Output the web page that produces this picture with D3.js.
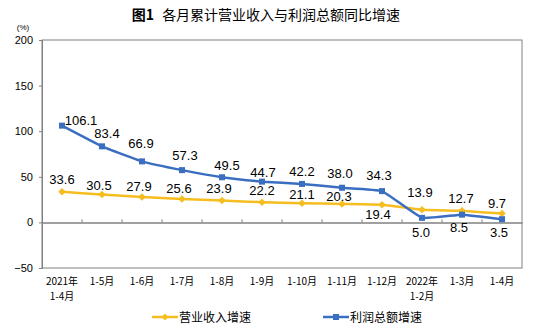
<!DOCTYPE html>
<html>
<head>
<meta charset="utf-8">
<script src="https://cdn.jsdelivr.net/npm/d3@7"></script>
<style>
  html, body { margin: 0; padding: 0; background: #fff; }
  svg { display: block; }
</style>
</head>
<body>
<svg id="chart" width="540" height="330"></svg>
<script>
// Month labels (two-line where needed)
const categories = [
  ["2021年", "1-4月"], ["1-5月"], ["1-6月"], ["1-7月"], ["1-8月"], ["1-9月"],
  ["1-10月"], ["1-11月"], ["1-12月"], ["2022年", "1-2月"], ["1-3月"], ["1-4月"]
];
// Cumulative year-on-year growth, %
const revenueGrowth = [33.6, 30.5, 27.9, 25.6, 23.9, 22.2, 21.1, 20.3, 19.4, 13.9, 12.7, 9.7];
const profitGrowth  = [106.1, 83.4, 66.9, 57.3, 49.5, 44.7, 42.2, 38.0, 34.3, 5.0, 8.5, 3.5];
const yTicks = [-50, 0, 50, 100, 150, 200];
const seriesNames = ["营业收入增速", "利润总额增速"];

// Hand-placed label nudges (px, baseline relative to the marker)
const revenueLabelDx = [0, -3, -3, -3, -3, 0, 0, -3, -4, -2, -1, -5];
const revenueLabelDy = [-7.5, -4.5, -5.5, -6.5, -7.5, -7.5, -4.5, -3, 14.5, -12.5, -7.5, -6];
const profitLabelDx  = [19, 5, -1, 3, 5, 1, 0, -2, -3, -1, -3, -3];
const profitLabelDy  = [-1, -8.5, -13.5, -10, -7, -4.5, -7.5, -9.5, -11, 19, 17, 17.5];

const svg = d3.select("#chart");
const plotLeft = 42, plotRight = 522, plotTop = 40, plotBottom = 268;
const yellow = "#F5BD1F", blue = "#3A6EC1";
const axisColor = "#808080";

const idx = categories.map((d, i) => i);
const x = d3.scaleBand().domain(idx).range([plotLeft, plotRight]);
const cx = i => x(i) + x.bandwidth() / 2;
const y = d3.scaleLinear().domain([-50, 200]).range([plotBottom, plotTop]);

// Title
svg.append("text")
  .attr("x", 266).attr("y", 20)
  .attr("text-anchor", "middle")
  .attr("font-family", "'Noto Sans CJK SC', sans-serif")
  .attr("font-size", 14)
  .attr("fill", "#000")
  .call(t => {
    t.append("tspan").attr("font-weight", "bold").text("图1");
    t.append("tspan").attr("dx", 8).text("各月累计营业收入与利润总额同比增速");
  });

// Plot frame
svg.append("rect")
  .attr("x", plotLeft).attr("y", plotTop)
  .attr("width", plotRight - plotLeft).attr("height", plotBottom - plotTop)
  .attr("fill", "none").attr("stroke", axisColor).attr("stroke-width", 1);

// Y axis
const yAxis = d3.axisLeft(y).tickValues(yTicks).tickSize(3).tickPadding(6);
const yg = svg.append("g").attr("transform", `translate(${plotLeft},0)`).call(yAxis);
yg.select(".domain").attr("stroke", axisColor);
yg.selectAll(".tick line").attr("stroke", axisColor);
yg.selectAll(".tick text")
  .attr("font-family", "'Liberation Sans', Arial, sans-serif")
  .attr("font-size", 11).attr("fill", "#000");

// Unit label
svg.append("text")
  .attr("x", 23).attr("y", 30)
  .attr("text-anchor", "middle")
  .attr("font-family", "'Liberation Sans', Arial, sans-serif")
  .attr("font-size", 8).attr("fill", "#000")
  .text("(%)");

// Zero baseline with inward tick marks at category boundaries
const zeroAxis = d3.axisTop(x).tickSize(0).tickFormat("");
const zg = svg.append("g").attr("transform", `translate(0,${y(0)})`).call(zeroAxis);
zg.select(".domain").attr("stroke", axisColor).attr("stroke-width", 1.5);
svg.append("g").selectAll("line")
  .data(idx.slice(1))
  .join("line")
  .attr("x1", i => x(i)).attr("x2", i => x(i))
  .attr("y1", y(0)).attr("y2", y(0) - 3)
  .attr("stroke", axisColor);

// Category labels below the frame
const xl = svg.append("g")
  .attr("font-family", "'Noto Sans CJK SC', sans-serif")
  .attr("font-size", 10).attr("fill", "#000")
  .attr("text-anchor", "middle");
idx.forEach(i => {
  categories[i].forEach((line, k) => {
    xl.append("text")
      .attr("x", cx(i)).attr("y", 285 + k * 15)
      .text(line);
  });
});

// Lightly smoothed series lines
const lineGen = d3.line()
  .x((d, i) => cx(i))
  .y(d => y(d))
  .curve(d3.curveCardinal.tension(0.7));

// Revenue growth series
svg.append("path").datum(revenueGrowth)
  .attr("d", lineGen).attr("fill", "none")
  .attr("stroke", yellow).attr("stroke-width", 2.5);
svg.append("g").selectAll("path")
  .data(revenueGrowth)
  .join("path")
  .attr("d", d3.symbol(d3.symbolDiamond2, 36))
  .attr("transform", (d, i) => `translate(${cx(i)},${y(d)})`)
  .attr("fill", yellow);

// Profit growth series
svg.append("path").datum(profitGrowth)
  .attr("d", lineGen).attr("fill", "none")
  .attr("stroke", blue).attr("stroke-width", 2.5);
svg.append("g").selectAll("rect")
  .data(profitGrowth)
  .join("rect")
  .attr("x", (d, i) => cx(i) - 3).attr("y", d => y(d) - 3)
  .attr("width", 6).attr("height", 6)
  .attr("fill", blue);

// Value labels
const lbl = svg.append("g")
  .attr("font-family", "'Liberation Sans', Arial, sans-serif")
  .attr("font-size", 13)
  .attr("fill", "#000").attr("text-anchor", "middle");

revenueGrowth.forEach((v, i) => {
  lbl.append("text")
    .attr("x", cx(i) + revenueLabelDx[i])
    .attr("y", y(v) + revenueLabelDy[i])
    .text(v.toFixed(1));
});
profitGrowth.forEach((v, i) => {
  lbl.append("text")
    .attr("x", cx(i) + profitLabelDx[i])
    .attr("y", y(v) + profitLabelDy[i])
    .text(v.toFixed(1));
});

// Legend
const legend = svg.append("g")
  .attr("font-family", "'Noto Sans CJK SC', sans-serif")
  .attr("font-size", 12).attr("fill", "#000");
const legendItems = [
  { name: seriesNames[0], color: yellow, x: 152, marker: "diamond" },
  { name: seriesNames[1], color: blue, x: 323, marker: "square" }
];
legendItems.forEach(it => {
  const ly = 317;
  legend.append("line")
    .attr("x1", it.x).attr("x2", it.x + 26)
    .attr("y1", ly).attr("y2", ly)
    .attr("stroke", it.color).attr("stroke-width", 2.5);
  if (it.marker === "diamond") {
    legend.append("path")
      .attr("d", d3.symbol(d3.symbolDiamond2, 30))
      .attr("transform", `translate(${it.x + 13},${ly})`)
      .attr("fill", it.color);
  } else {
    legend.append("rect")
      .attr("x", it.x + 10).attr("y", ly - 3)
      .attr("width", 6).attr("height", 6)
      .attr("fill", it.color);
  }
  legend.append("text")
    .attr("x", it.x + 27).attr("y", ly + 4.5)
    .text(it.name);
});
</script>
</body>
</html>
